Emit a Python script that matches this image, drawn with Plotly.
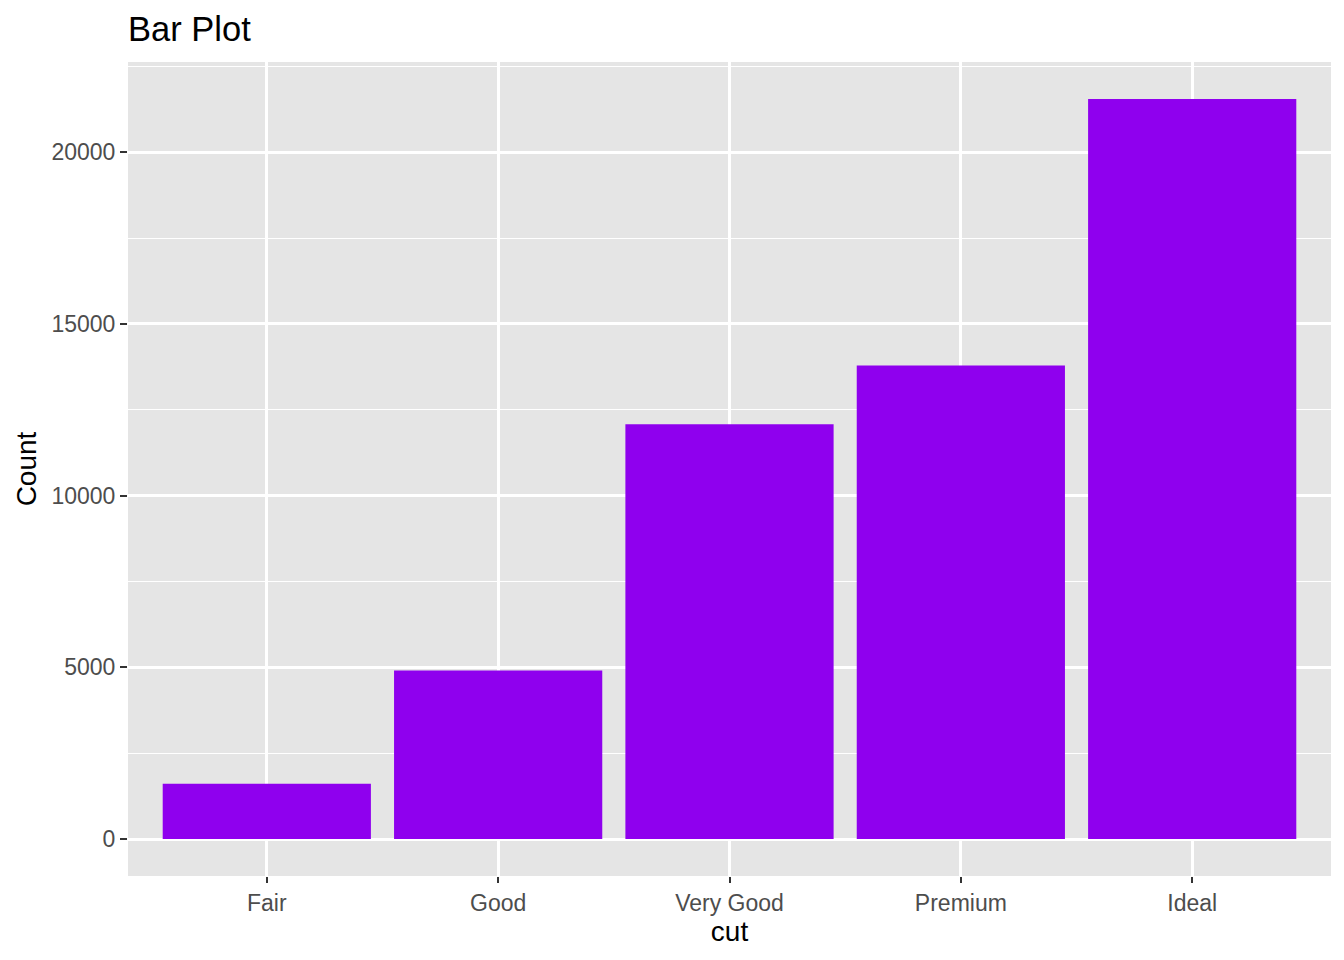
import plotly.graph_objects as go

categories = ["Fair", "Good", "Very Good", "Premium", "Ideal"]
counts = [1610, 4906, 12082, 13791, 21551]
y_ticks = [0, 5000, 10000, 15000, 20000]
y_ticklabels = ["0", "5000", "10000", "15000", "20000"]
y_minor = [2500, 7500, 12500, 17500, 22500]

font_family = "Liberation Sans, Arial, Helvetica, sans-serif"

W, H = 1336, 952  # page body has an 8px margin

fig = go.Figure(
    go.Bar(
        x=categories,
        y=counts,
        width=0.9,
        marker=dict(color="#8F00EE", line=dict(width=0)),
    )
)

ymax = max(counts)
pad = ymax * 0.05

fig.update_layout(
    width=W,
    height=H,
    paper_bgcolor="white",
    plot_bgcolor="#E5E5E5",
    margin=dict(l=120, r=13, t=54, b=84),
    title=dict(
        text="Bar Plot",
        x=120 / W,
        xanchor="left",
        y=1 - 21 / H,
        yanchor="middle",
        font=dict(family=font_family, size=34.5, color="black"),
    ),
    showlegend=False,
    bargap=0.1,
)

fig.update_xaxes(
    type="category",
    range=[-0.6, 4.6],
    showgrid=True,
    gridcolor="white",
    gridwidth=2.7,
    ticks="outside",
    ticklen=6,
    tickwidth=2,
    tickcolor="#333333",
    tickfont=dict(family=font_family, size=23, color="#4D4D4D"),
    title=dict(text="cut", font=dict(family=font_family, size=28, color="black"), standoff=6),
    zeroline=False,
    showline=False,
)

fig.update_yaxes(
    range=[-pad, ymax + pad],
    tickvals=y_ticks,
    ticktext=y_ticklabels,
    showgrid=True,
    gridcolor="white",
    gridwidth=2.7,
    minor=dict(tickvals=y_minor, showgrid=True, gridcolor="white", gridwidth=1.4, ticks=""),
    ticks="outside",
    ticklen=7,
    tickwidth=2,
    tickcolor="#333333",
    tickfont=dict(family=font_family, size=23, color="#4D4D4D"),
    title=dict(text="Count", font=dict(family=font_family, size=28, color="black"), standoff=6),
    zeroline=False,
    showline=False,
)

fig.write_html("out.html")
